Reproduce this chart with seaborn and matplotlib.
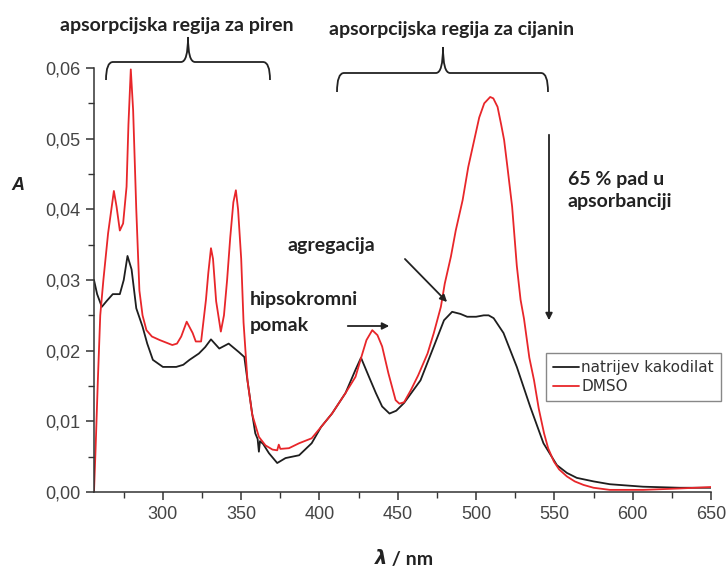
import numpy as np
import pandas as pd
import matplotlib
matplotlib.use("Agg")
import matplotlib.pyplot as plt
import seaborn as sns
from matplotlib.path import Path
from matplotlib.patches import PathPatch
from matplotlib.ticker import MultipleLocator, FuncFormatter

# spectra (wavelength in nm, absorbance)
nm_kakodilat = [256, 258, 261, 264, 268, 272.5, 275, 277.4, 280, 283,
                287, 290, 293.6, 300, 308.5, 313, 317, 323, 327, 330.7,
                336, 342, 348.5, 352, 354, 357, 359, 360.5, 361.3, 362,
                364, 367.7, 373, 378.3, 387, 395, 401, 408, 416.6, 423,
                426.5, 431.6, 436, 440, 444.7, 449, 454, 464.5, 473, 479.5,
                484.7, 490, 494.3, 500, 504.9, 508, 511.2, 517.5, 526, 534.5,
                543, 551.6, 558, 564.3, 575, 585.4, 606.6, 630, 650]
A_kakodilat = [0.030, 0.028, 0.0262, 0.027, 0.028, 0.028, 0.030, 0.0334, 0.0315, 0.026,
               0.0234, 0.021, 0.0187, 0.0177, 0.0177, 0.018, 0.0187, 0.0196, 0.0205, 0.0216,
               0.0203, 0.021, 0.0198, 0.0191, 0.0158, 0.0111, 0.0083, 0.0075, 0.0057, 0.0072,
               0.0068, 0.0055, 0.0041, 0.0048, 0.0052, 0.0069, 0.0092, 0.0111, 0.014, 0.0173,
               0.019, 0.0163, 0.014, 0.0121, 0.0111, 0.0115, 0.0126, 0.0158, 0.0206, 0.0243,
               0.0255, 0.0252, 0.0248, 0.0248, 0.025, 0.025, 0.0246, 0.0225, 0.0177, 0.0121,
               0.0069, 0.0038, 0.0027, 0.002, 0.0015, 0.0011, 0.00075, 0.0006, 0.0006]

nm_dmso = [256, 257, 258.5, 260, 262, 265, 268.7, 270.4, 272.5, 274.6,
           276.8, 278, 279.5, 281, 283, 285, 287, 289.5, 293, 298,
           306, 309, 311.7, 315.2, 319, 321, 324.4, 327.5, 329, 330.7,
           332, 334, 337, 339, 341, 343, 345, 346.6, 348, 350,
           351.5, 354, 357, 361.3, 365.5, 370, 373, 374, 375, 380.5,
           387, 395, 401, 408, 416.6, 423, 427.4, 430, 433.7, 437,
           440, 444, 448.6, 451, 454, 458.3, 463, 469, 473, 477.5,
           480, 483.9, 487, 491.4, 495, 498.8, 502, 505.2, 509, 511,
           513.7, 516, 517.9, 520, 523, 526, 528.4, 530.6, 534, 537,
           540, 543.4, 546, 549.7, 553, 558, 563, 568.6, 575, 585.4,
           606.6, 630, 650]
A_dmso = [0.0, 0.006, 0.016, 0.025, 0.030, 0.0366, 0.0426, 0.0404, 0.037, 0.038,
          0.0432, 0.052, 0.0598, 0.054, 0.040, 0.0285, 0.025, 0.0229, 0.022, 0.0215,
          0.0208, 0.021, 0.022, 0.0241, 0.0225, 0.0213, 0.0213, 0.0272, 0.031, 0.0345,
          0.033, 0.027, 0.0227, 0.025, 0.030, 0.036, 0.041, 0.0427, 0.040, 0.033,
          0.024, 0.0158, 0.011, 0.0078, 0.0066, 0.006, 0.0059, 0.0067, 0.0061, 0.0062,
          0.0069, 0.0076, 0.0092, 0.0111, 0.014, 0.0163, 0.0196, 0.0215, 0.0229, 0.0222,
          0.0206, 0.0168, 0.013, 0.0125, 0.0127, 0.0144, 0.0165, 0.0196, 0.0225, 0.0262,
          0.0295, 0.0333, 0.037, 0.0413, 0.046, 0.0498, 0.053, 0.055, 0.0559, 0.0557,
          0.0545, 0.052, 0.0498, 0.046, 0.0404, 0.032, 0.0272, 0.0245, 0.019, 0.0158,
          0.0118, 0.0083, 0.0062, 0.0043, 0.0032, 0.0022, 0.0015, 0.001, 0.0006, 0.0003,
          0.0003, 0.0005, 0.0007]

labels = ["natrijev kakodilat", "DMSO"]
colors = ["#1e1e1e", "#e8262a"]

df = pd.concat([
    pd.DataFrame({"nm": nm_kakodilat, "A": A_kakodilat, "otapalo": labels[0]}),
    pd.DataFrame({"nm": nm_dmso, "A": A_dmso, "otapalo": labels[1]}),
])

sns.set_style("ticks")
plt.rcParams["font.family"] = ["Liberation Sans", "DejaVu Sans"]

W, H = 728, 569
fig = plt.figure(figsize=(W / 100, H / 100), dpi=100)
ax = fig.add_axes([94.3 / W, 1 - 492 / H, (711 - 94.3) / W, (492 - 68) / H])

sns.lineplot(data=df, x="nm", y="A", hue="otapalo", palette=colors,
             sort=False, estimator=None, linewidth=1.3, ax=ax)

ax.set_xlim(256.2, 650)
ax.set_ylim(0, 0.06)
sns.despine(ax=ax)
for s in ["left", "bottom"]:
    ax.spines[s].set_color("#333333")
    ax.spines[s].set_linewidth(1.1)

ax.xaxis.set_major_locator(MultipleLocator(50))
ax.xaxis.set_minor_locator(MultipleLocator(25))
ax.yaxis.set_major_locator(MultipleLocator(0.01))
ax.yaxis.set_minor_locator(MultipleLocator(0.005))
ax.yaxis.set_major_formatter(FuncFormatter(lambda v, p: f"{v:.2f}".replace(".", ",")))
ax.tick_params(which="major", length=6, width=1.1, color="#333333",
               labelsize=13, labelcolor="#444444", pad=4)
ax.tick_params(which="minor", length=4, width=1.0, color="#333333")
ax.set_xlabel("")
ax.set_ylabel("")

leg = ax.legend(loc="upper left", bbox_to_anchor=(0.733, 0.327), borderaxespad=0,
                prop={"family": "DejaVu Sans", "size": 11}, frameon=True, fancybox=False,
                framealpha=1, edgecolor="#888888", handlelength=1.7, handletextpad=0.15,
                labelspacing=0.25, borderpad=0.45)
leg.get_frame().set_linewidth(1.0)
for t in leg.get_texts():
    t.set_color("#333333")


def px(x, y):
    return x / W, 1 - y / H


ann = dict(family=["Lato", "DejaVu Sans"], weight="bold", color="#222222", fontsize=14)

fig.text(*px(177, 25), "apsorpcijska regija za piren", ha="center", va="center", **ann)
fig.text(*px(452, 30), "apsorpcijska regija za cijanin", ha="center", va="center", **ann)
fig.text(*px(568, 179), "65 % pad u", ha="left", va="center", **ann)
fig.text(*px(568, 202), "apsorbanciji", ha="left", va="center", **ann)
fig.text(*px(287, 245), "agregacija", ha="left", va="center", **ann)
fig.text(*px(250, 300), "hipsokromni", ha="left", va="center", **ann)
fig.text(*px(250, 326), "pomak", ha="left", va="center", **ann)

fig.text(*px(17.5, 185), "A", ha="center", va="center", fontsize=13,
         weight="bold", style="italic", color="#222222")
fig.text(*px(387, 559), "λ", ha="right", va="center", fontsize=14,
         weight="bold", style="italic", color="#222222", family=["DejaVu Sans"])
fig.text(*px(387, 559), " / nm", ha="left", va="center", **ann)


def brace(x0, x1, xc, yh, yb, yt, r=7):
    verts = [px(x0, yb), px(x0, yh), px(x0 + r, yh),
             px(xc - r, yh), px(xc, yh), px(xc, yt),
             px(xc, yh), px(xc + r, yh),
             px(x1 - r, yh), px(x1, yh), px(x1, yb)]
    codes = [Path.MOVETO, Path.CURVE3, Path.CURVE3,
             Path.LINETO, Path.CURVE3, Path.CURVE3,
             Path.CURVE3, Path.CURVE3,
             Path.LINETO, Path.CURVE3, Path.CURVE3]
    fig.patches.append(PathPatch(Path(verts, codes), transform=fig.transFigure,
                                 fill=False, edgecolor="#222222", lw=1.3))


brace(106, 270, 188, 62, 80, 37)
brace(337, 548, 443, 73, 92, 47)

arrow = dict(arrowstyle="-|>", color="#222222", lw=1.3, mutation_scale=10)
for (x0, y0), (x1, y1) in [((549, 132), (549, 323)),
                           ((403, 257), (449, 304)),
                           ((345, 326), (392, 326))]:
    fig.add_artist(matplotlib.patches.FancyArrowPatch(
        px(x0, y0), px(x1, y1), transform=fig.transFigure, **arrow))

fig.savefig("out.png", dpi=100)
